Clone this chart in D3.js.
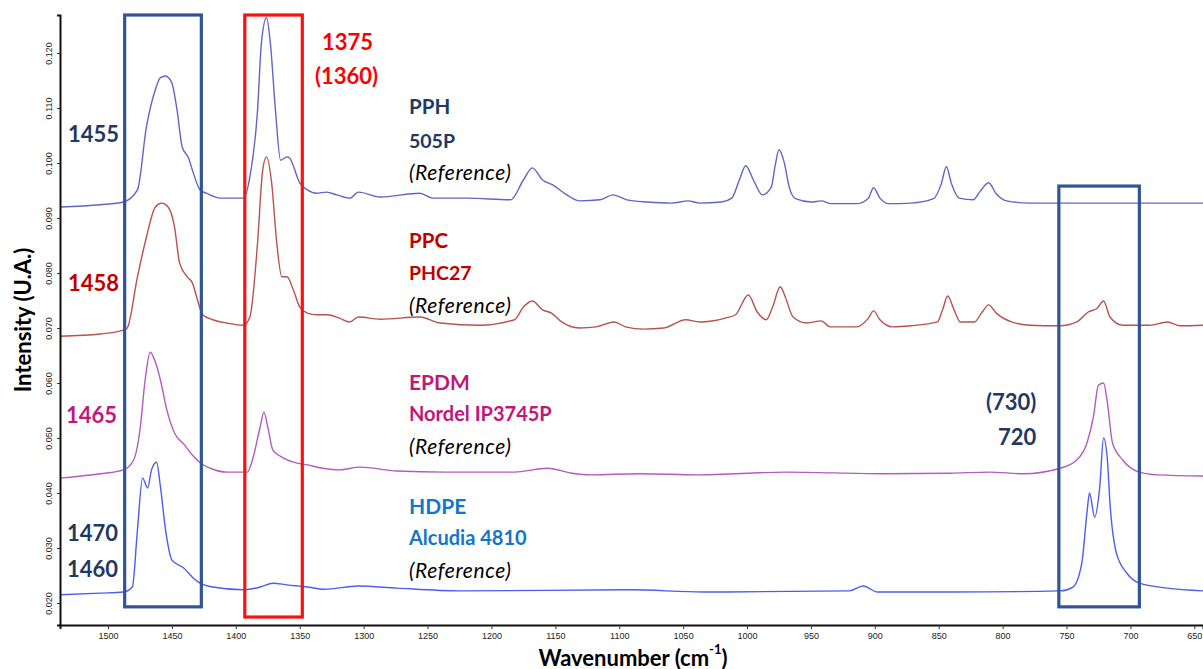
<!DOCTYPE html>
<html>
<head>
<meta charset="utf-8">
<script src="https://cdn.jsdelivr.net/npm/d3@7"></script>
<style>
  html, body { margin: 0; padding: 0; background: #fff; }
  svg { display: block; }
</style>
</head>
<body>
<svg id="chart" width="1203" height="669"></svg>
<script>
// ---------------- DATA (wavenumber cm-1, intensity U.A.) ----------------
const xTickValues = [1500, 1450, 1400, 1350, 1300, 1250, 1200, 1150, 1100, 1050, 1000, 950, 900, 850, 800, 750, 700, 650];
const yTickValues = [0.020, 0.030, 0.040, 0.050, 0.060, 0.070, 0.080, 0.090, 0.100, 0.110, 0.120];

const seriesNames = ["PPH", "PPC", "EPDM", "HDPE"];

const pph = [
  [1538,0.0920],[1506,0.0924],[1488,0.0929],[1477,0.0951],[1470,0.1065],[1463,0.1133],[1459,0.1155],[1455,0.1158],
  [1450,0.1145],[1446,0.1096],[1442,0.1029],[1437,0.1009],[1434,0.0987],[1428,0.0951],[1423,0.0945],[1412,0.0936],
  [1394,0.0936],[1389,0.0975],[1383,0.1096],[1380,0.1218],[1376,0.1264],[1373,0.1218],[1369,0.1096],[1365,0.1005],
  [1360,0.1011],[1358,0.1009],[1350,0.0964],[1344,0.0951],[1337,0.0945],[1329,0.0947],[1321,0.0942],[1311,0.0936],
  [1304,0.0947],[1287,0.0938],[1256,0.0945],[1246,0.0936],[1219,0.0936],[1185,0.0933],[1175,0.0969],[1168,0.0991],
  [1160,0.0969],[1152,0.0960],[1141,0.0942],[1131,0.0931],[1115,0.0933],[1105,0.0942],[1094,0.0933],[1078,0.0929],
  [1059,0.0927],[1046,0.0931],[1037,0.0927],[1020,0.0929],[1012,0.0936],[1006,0.0969],[1001,0.0995],[995,0.0969],
  [988,0.0942],[981,0.0956],[978,0.0995],[975,0.1024],[971,0.1002],[967,0.0956],[962,0.0935],[950,0.0929],
  [942,0.0931],[934,0.0926],[914,0.0926],[905,0.0936],[901,0.0955],[896,0.0936],[889,0.0926],[872,0.0927],
  [854,0.0935],[848,0.0962],[844,0.0993],[840,0.0962],[834,0.0936],[823,0.0933],[818,0.0947],[811,0.0964],
  [805,0.0944],[797,0.0931],[779,0.0927],[729,0.0927],[643,0.0927]
];

const ppc = [
  [1538,0.0685],[1506,0.0689],[1488,0.0696],[1485,0.0700],[1477,0.0793],[1470,0.0865],[1463,0.0920],[1458,0.0927],
  [1453,0.0920],[1448,0.0884],[1444,0.0818],[1438,0.0793],[1434,0.0782],[1430,0.0751],[1426,0.0724],[1418,0.0715],
  [1407,0.0709],[1394,0.0705],[1389,0.0720],[1383,0.0855],[1379,0.0987],[1376,0.1011],[1372,0.0964],[1368,0.0855],
  [1364,0.0793],[1360,0.0793],[1355,0.0769],[1350,0.0738],[1344,0.0727],[1337,0.0724],[1329,0.0724],[1319,0.0718],
  [1311,0.0711],[1304,0.0720],[1287,0.0716],[1256,0.0720],[1240,0.0709],[1209,0.0705],[1182,0.0715],[1175,0.0738],
  [1168,0.0749],[1160,0.0733],[1153,0.0727],[1145,0.0711],[1131,0.0700],[1118,0.0702],[1104,0.0711],[1095,0.0702],
  [1081,0.0698],[1065,0.0700],[1048,0.0715],[1037,0.0711],[1017,0.0718],[1009,0.0724],[999,0.0760],[992,0.0729],
  [985,0.0715],[980,0.0738],[974,0.0775],[970,0.0756],[964,0.0720],[953,0.0709],[942,0.0713],[935,0.0702],
  [914,0.0702],[905,0.0718],[901,0.0731],[896,0.0715],[886,0.0702],[872,0.0704],[851,0.0711],[847,0.0733],
  [843,0.0758],[838,0.0733],[833,0.0711],[822,0.0711],[816,0.0729],[811,0.0742],[805,0.0727],[793,0.0711],
  [779,0.0705],[755,0.0704],[742,0.0711],[733,0.0729],[726,0.0736],[721,0.0749],[716,0.0720],[706,0.0705],
  [685,0.0705],[671,0.0711],[661,0.0704],[643,0.0705]
];

const epdm = [
  [1538,0.0427],[1506,0.0435],[1488,0.0442],[1480,0.0460],[1475,0.0515],[1471,0.0605],[1467,0.0656],[1463,0.0638],
  [1459,0.0605],[1454,0.0551],[1448,0.0509],[1440,0.0487],[1434,0.0469],[1428,0.0455],[1420,0.0445],[1407,0.0438],
  [1391,0.0438],[1387,0.0460],[1381,0.0520],[1378,0.0547],[1375,0.0520],[1371,0.0478],[1363,0.0464],[1355,0.0456],
  [1344,0.0451],[1332,0.0445],[1319,0.0442],[1303,0.0447],[1274,0.0440],[1236,0.0438],[1182,0.0438],[1156,0.0445],
  [1137,0.0436],[1122,0.0433],[1084,0.0435],[1038,0.0433],[970,0.0438],[894,0.0435],[841,0.0436],[810,0.0438],
  [784,0.0435],[755,0.0445],[742,0.0460],[734,0.0491],[729,0.0538],[725,0.0596],[721,0.0600],[718,0.0564],
  [714,0.0491],[706,0.0460],[693,0.0438],[679,0.0433],[643,0.0431]
];

const hdpe = [
  [1538,0.0215],[1506,0.0218],[1488,0.0220],[1481,0.0229],[1477,0.0333],[1473,0.0427],[1469,0.0409],[1466,0.0442],
  [1462,0.0456],[1459,0.0411],[1455,0.0333],[1450,0.0278],[1441,0.0264],[1434,0.0247],[1428,0.0236],[1418,0.0229],
  [1394,0.0224],[1381,0.0229],[1371,0.0236],[1360,0.0233],[1344,0.0229],[1331,0.0225],[1304,0.0231],[1274,0.0227],
  [1225,0.0222],[1092,0.0224],[1034,0.0220],[920,0.0222],[909,0.0231],[898,0.0220],[841,0.0220],[755,0.0222],
  [745,0.0229],[738,0.0273],[734,0.0364],[732,0.0400],[728,0.0356],[724,0.0411],[721,0.0500],[718,0.0460],
  [716,0.0382],[711,0.0291],[703,0.0255],[693,0.0236],[671,0.0227],[643,0.0222]
];

// highlighted band regions (wavenumber span, intensity span)
const bandRegions = [
  { w0: 1487, w1: 1427, v0: 0.0193, v1: 0.1269, kind: "blue" },
  { w0: 1393, w1: 1348, v0: 0.01745, v1: 0.1269, kind: "red" },
  { w0: 756, w1: 693, v0: 0.0193, v1: 0.0958, kind: "blue" }
];

// ---------------- CHART ----------------
const svg = d3.select("#chart");
const mLeft = 60, mRight = 1203, mTop = 15, mBottom = 625;

const x = d3.scaleLinear().domain([1537.6, 643.2]).range([mLeft, mRight]);
const y = d3.scaleLinear().domain([0.016, 0.1269]).range([mBottom, mTop]);

const lineColors = { PPH: "#5f66c6", PPC: "#b8524f", EPDM: "#b25cbd", HDPE: "#4d5cf2" };
const seriesData = { PPH: pph, PPC: ppc, EPDM: epdm, HDPE: hdpe };

svg.append("defs").append("clipPath").attr("id", "plotclip")
  .append("rect").attr("x", mLeft).attr("y", 0).attr("width", mRight - mLeft).attr("height", mBottom);

const line = d3.line().x(d => x(d[0])).y(d => y(d[1])).curve(d3.curveMonotoneX);

const gLines = svg.append("g").attr("clip-path", "url(#plotclip)");
seriesNames.forEach(name => {
  gLines.append("path")
    .datum(seriesData[name].slice().sort((a, b) => a[0] - b[0]))
    .attr("fill", "none")
    .attr("stroke", lineColors[name])
    .attr("stroke-width", 1.4)
    .attr("stroke-linejoin", "round")
    .attr("d", line);
});

// band boxes
svg.append("g").selectAll("rect").data(bandRegions).join("rect")
  .attr("x", d => x(d.w0))
  .attr("y", d => y(d.v1))
  .attr("width", d => x(d.w1) - x(d.w0))
  .attr("height", d => y(d.v0) - y(d.v1))
  .attr("fill", "none")
  .attr("stroke", d => d.kind === "red" ? "#ff1010" : "#2f5597")
  .attr("stroke-width", 3.2);

// axes
const xAxis = d3.axisBottom(x).tickValues(xTickValues).tickSize(4).tickPadding(4).tickFormat(d3.format("d"));
const gx = svg.append("g").attr("transform", `translate(0,${mBottom})`).call(xAxis);
gx.select(".domain").attr("stroke", "#111").attr("stroke-width", 2);
gx.selectAll(".tick line").attr("stroke", "#333");
gx.selectAll(".tick text").attr("font-family", "Arial, 'Liberation Sans', sans-serif").attr("font-size", 9).attr("fill", "#222");

const yAxis = d3.axisLeft(y).tickValues(yTickValues).tickSize(3).tickPadding(3).tickFormat(d3.format(".3f"));
const gy = svg.append("g").attr("transform", `translate(${mLeft},0)`).call(yAxis);
gy.select(".domain").attr("stroke", "#111").attr("stroke-width", 2);
gy.selectAll(".tick line").attr("stroke", "#333");
gy.selectAll(".tick text")
  .attr("font-family", "Arial, 'Liberation Sans', sans-serif").attr("font-size", 9).attr("fill", "#222")
  .attr("text-anchor", "middle").attr("dy", null)
  .attr("x", 0).attr("y", 0)
  .attr("transform", "translate(-11,0) rotate(-90)")
  .attr("dominant-baseline", "central");

// axis titles
svg.append("text")
  .attr("transform", "translate(22,320) rotate(-90)")
  .attr("text-anchor", "middle").attr("dominant-baseline", "central")
  .attr("font-family", "Lato, 'Open Sans', sans-serif").attr("font-weight", 700).attr("font-size", 22)
  .attr("fill", "#000").text("Intensity (U.A.)");

const xt = svg.append("text")
  .attr("x", 633).attr("y", 657)
  .attr("text-anchor", "middle").attr("dominant-baseline", "central")
  .attr("font-family", "Lato, 'Open Sans', sans-serif").attr("font-weight", 700).attr("font-size", 22)
  .attr("fill", "#000");
xt.append("tspan").text("Wavenumber (cm");
xt.append("tspan").attr("font-size", 13).attr("dy", -8).text("-1");
xt.append("tspan").attr("dy", 8).text(")");

// annotation texts
const navy = "#1f3864", dred = "#c00000", mag = "#c2177a", hblue = "#1377c9", red = "#ff0000";
const F = "Lato, 'Open Sans', sans-serif";
const annotations = [
  { t: "1455", x: 68, y: 133, c: navy, s: 22, w: 700 },
  { t: "1458", x: 68, y: 282, c: dred, s: 22, w: 700 },
  { t: "1465", x: 66, y: 414, c: mag, s: 22, w: 700 },
  { t: "1470", x: 67, y: 532, c: navy, s: 22, w: 700 },
  { t: "1460", x: 67, y: 568, c: navy, s: 22, w: 700 },
  { t: "1375", x: 322, y: 41, c: red, s: 22, w: 700 },
  { t: "(1360)", x: 315, y: 75, c: red, s: 22, w: 700 },
  { t: "(730)", x: 986, y: 401, c: navy, s: 22, w: 700 },
  { t: "720", x: 998, y: 436, c: navy, s: 22, w: 700 },
  { t: "PPH", x: 409, y: 106, c: navy, s: 20.5, w: 700 },
  { t: "505P", x: 409, y: 140, c: navy, s: 19.5, w: 700 },
  { t: "(Reference)", x: 409, y: 171, c: "#000", s: 21, w: 400, it: true },
  { t: "PPC", x: 409, y: 240, c: dred, s: 20.5, w: 700 },
  { t: "PHC27", x: 409, y: 272, c: dred, s: 19.5, w: 700 },
  { t: "(Reference)", x: 409, y: 304, c: "#000", s: 21, w: 400, it: true },
  { t: "EPDM", x: 409, y: 381, c: mag, s: 21, w: 700 },
  { t: "Nordel IP3745P", x: 409, y: 413, c: mag, s: 20, w: 700 },
  { t: "(Reference)", x: 409, y: 445, c: "#000", s: 21, w: 400, it: true },
  { t: "HDPE", x: 409, y: 505, c: hblue, s: 21, w: 700 },
  { t: "Alcudia 4810", x: 409, y: 537, c: hblue, s: 20, w: 700 },
  { t: "(Reference)", x: 409, y: 569, c: "#000", s: 21, w: 400, it: true }
];
svg.append("g").selectAll("text").data(annotations).join("text")
  .attr("x", d => d.x).attr("y", d => d.y)
  .attr("dominant-baseline", "central")
  .attr("font-family", F).attr("font-size", d => d.s).attr("font-weight", d => d.w)
  .attr("font-style", d => d.it ? "italic" : "normal")
  .attr("letter-spacing", d => d.it ? 0.6 : 0)
  .attr("fill", d => d.c).text(d => d.t);
</script>
</body>
</html>
